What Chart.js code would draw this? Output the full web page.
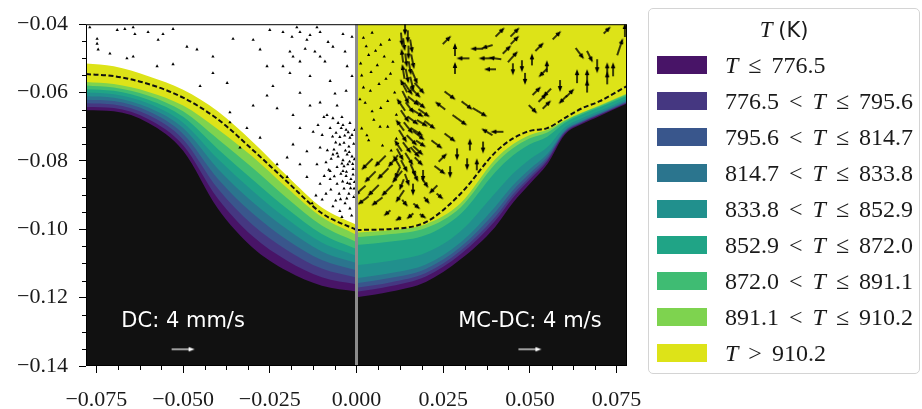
<!DOCTYPE html>
<html>
<head>
<meta charset="utf-8">
<script src="https://cdn.jsdelivr.net/npm/chart.js@4.4.1/dist/chart.umd.min.js"></script>
<style>
  body { margin: 0; background: #fff; }
  #wrap { position: relative; width: 922px; height: 409px; overflow: hidden; }
  #legend { position: absolute; left: 648px; top: 8px; width: 272px; height: 366px;
    border: 1.5px solid #d4d4d4; border-radius: 5px; box-sizing: border-box; }
  .row { position: absolute; left: 0; height: 26px; line-height: 26px; white-space: nowrap; }
  .sw { position: absolute; left: 8px; width: 50px; height: 18px; top: 4px; }
  .lt { position: absolute; left: 76px; top: 0; font-family: 'Liberation Serif', 'DejaVu Serif', 'Noto Serif', serif;
    font-size: 24px; color: #1a1a1a; word-spacing: 4px; }
  .lt i { font-style: italic; }
</style>
</head>
<body>
<div id="wrap">
  <canvas id="c" width="922" height="409"></canvas>
  <div id="legend"></div>
</div>
<script>
// 坐标轴刻度
const xTicks = [-0.075, -0.05, -0.025, 0, 0.025, 0.05, 0.075]
const xTickLabels = ['−0.075', '−0.050', '−0.025', '0.000', '0.025', '0.050', '0.075']
const yTicks = [-0.14, -0.12, -0.10, -0.08, -0.06, -0.04]
const yTickLabels = ['−0.14', '−0.12', '−0.10', '−0.08', '−0.06', '−0.04']

// 温度分级 (K) 与配色
const tempLevels = [776.5, 795.6, 814.7, 833.8, 852.9, 872.0, 891.1, 910.2]
const levelColors = ['#481467', '#453781', '#39568c', '#2b758e', '#21908d', '#20a486', '#3fbc73', '#7ed34f', '#dde318']
const solidColor = '#111111'

// 左半 DC 等值线 (mm)，自上而下
const xLeftMm = [-78, -70, -60, -50, -40, -30, -20, -10, 0]
const left0 = [-51.5, -52.3, -55.2, -59.2, -65.5, -74.4, -84.4, -93.6, -98.7]
const left1 = [-56.9, -57.5, -59.8, -63.8, -70.7, -78.7, -87.9, -96.4, -101.6]
const left2 = [-57.9, -58.5, -60.9, -65.5, -73.6, -82.0, -90.9, -98.9, -103.7]
const left3 = [-59.0, -59.5, -62.1, -67.1, -76.5, -85.4, -94.0, -101.4, -105.8]
const left4 = [-60.0, -60.5, -63.2, -68.8, -79.4, -88.7, -97.0, -103.9, -107.8]
const left5 = [-61.1, -61.5, -64.4, -70.4, -82.3, -92.0, -100.0, -106.5, -109.9]
const left6 = [-62.1, -62.5, -65.5, -72.1, -85.2, -95.3, -103.1, -109.0, -112.0]
const left7 = [-63.1, -63.5, -66.6, -73.7, -88.1, -98.7, -106.1, -111.5, -114.1]
const left8 = [-64.2, -64.5, -67.8, -75.4, -91.0, -102.0, -109.2, -114.0, -116.1]
const left9 = [-65.2, -65.5, -68.9, -77.0, -93.9, -105.3, -112.2, -116.5, -118.2]
const leftDash = [-54.6, -55.2, -57.5, -61.5, -67.8, -76.7, -86.1, -95.3, -100.2]

// 右半 MC-DC 等值线 (mm)
const xRightMm = [0, 10, 20, 30, 40, 45, 50, 55, 60, 65, 70, 78]
const right1 = [-101.0, -100.2, -98.5, -92.4, -79.5, -75.2, -72.4, -70.9, -68.1, -65.8, -63.8, -60.3]
const right2 = [-102.3, -101.4, -99.6, -93.6, -80.9, -76.4, -73.4, -71.7, -68.4, -66.0, -64.0, -60.5]
const right3 = [-104.6, -103.6, -101.7, -95.5, -83.3, -78.5, -75.1, -72.9, -68.9, -66.4, -64.4, -60.9]
const right4 = [-110.5, -109.2, -106.9, -100.6, -89.4, -83.8, -79.5, -76.0, -70.2, -67.5, -65.4, -61.8]
const right5 = [-114.3, -112.8, -110.3, -103.9, -93.4, -87.3, -82.4, -78.0, -71.1, -68.2, -66.0, -62.3]
const right6 = [-115.8, -114.2, -111.6, -105.2, -95.0, -88.7, -83.6, -78.8, -71.4, -68.5, -66.2, -62.6]
const right7 = [-117.1, -115.5, -112.8, -106.3, -96.4, -89.9, -84.6, -79.5, -71.7, -68.7, -66.5, -62.8]
const right8 = [-118.3, -116.6, -113.8, -107.3, -97.5, -90.9, -85.4, -80.1, -72.0, -68.9, -66.6, -63.0]
const right9 = [-119.9, -118.2, -115.4, -108.8, -99.3, -92.4, -86.7, -81.0, -72.4, -69.2, -66.9, -63.2]
const rightDash = [-100.2, -99.9, -97.9, -89.6, -77.5, -73.5, -71.2, -70.4, -67.5, -64.6, -62.6, -58.1]

// 左半速度点 (mm)
const leftDots = [
  [-76.9, -40.9], [-74.8, -44.3], [-74.8, -45.7], [-74.5, -47.4], [-69.0, -41.7], [-66.8, -41.4], [-64.4, -40.9],
  [-63.9, -42.9], [-60.1, -42.3], [-55.8, -42.9], [-57.2, -44.6], [-52.9, -41.4], [-48.9, -46.6], [-46.0, -47.4],
  [-71.1, -48.6], [-66.2, -50.0], [-64.4, -49.5], [-57.5, -52.3], [-52.9, -51.7], [-45.1, -58.1], [-41.4, -54.3],
  [-37.3, -57.2], [-36.5, -65.8], [-36.5, -68.7], [-41.4, -49.5], [-35.6, -44.3], [-29.8, -44.6], [-27.8, -47.4],
  [-25.0, -41.7], [-25.8, -52.3], [-24.1, -58.1], [-25.8, -60.9], [-29.8, -63.8], [-22.9, -64.6], [-19.2, -54.3],
  [-18.3, -49.5], [-17.2, -40.9], [-14.3, -44.6], [-11.4, -40.9], [-10.5, -49.5], [-6.8, -46.6], [-3.9, -42.9],
  [-2.7, -52.3], [-16.3, -60.1], [-13.4, -63.8], [-10.5, -62.9], [-18.3, -66.6], [-16.3, -70.4], [-12.5, -71.5],
  [-8.5, -66.6], [-7.6, -70.4], [-5.6, -63.8], [-3.9, -69.5], [-4.8, -75.2], [-1.9, -73.2], [-2.7, -78.1],
  [-6.8, -78.1], [-10.5, -76.1], [-14.3, -77.2], [-18.3, -75.2], [-20.0, -79.0], [-16.3, -81.0], [-11.4, -81.0],
  [-7.6, -83.0], [-3.9, -83.0], [-1.9, -86.7], [-5.6, -86.7], [-10.5, -86.7], [-14.3, -84.7], [-20.0, -84.7],
  [-22.9, -81.0], [-27.8, -73.2], [-31.6, -70.4], [-33.6, -76.1],
  [-6.8, -67.5], [-5.3, -68.9], [-4.2, -67.2], [-3.0, -70.9], [-1.9, -68.9], [-5.9, -71.8], [-4.8, -73.0],
  [-3.6, -74.7], [-2.2, -75.8], [-1.3, -72.4], [-6.5, -76.7], [-5.3, -78.7], [-3.9, -79.8], [-2.5, -81.0],
  [-1.3, -78.7], [-5.6, -81.8], [-4.5, -83.8], [-3.0, -84.4], [-1.6, -85.3], [-7.6, -85.3], [-8.8, -80.4],
  [-9.9, -72.4], [-11.1, -69.5], [-9.4, -67.2], [-1.0, -82.4], [-0.7, -88.1], [-2.2, -89.6], [-3.6, -88.1],
  [-5.0, -89.6], [-7.4, -88.4], [-8.8, -89.6], [-9.9, -91.3], [-11.7, -90.1], [-12.8, -92.4], [-3.3, -92.4],
  [-1.9, -93.9], [-4.8, -94.7], [-6.8, -93.3],
  [-0.8, -75.0], [-0.6, -79.5], [-2.0, -80.2], [-3.2, -77.0], [-4.2, -80.8], [-1.0, -84.0], [-2.6, -86.5],
  [-0.5, -71.0], [-3.4, -72.6], [-6.0, -74.6], [-7.3, -79.4], [-8.0, -82.6], [-4.0, -86.0], [-6.4, -84.5],
  [-0.8, -90.6], [-2.8, -91.0], [-1.4, -96.0], [-4.2, -96.4],
  [-21.2, -42.3], [-18.6, -43.7], [-16.3, -42.3], [-13.4, -43.2], [-10.5, -42.3], [-8.2, -45.2], [-14.8, -47.2],
  [-12.0, -48.0], [-9.1, -50.9], [-16.3, -50.9], [-19.2, -48.0], [-21.2, -52.3], [-13.4, -55.2], [-7.6, -56.6],
  [-3.3, -48.0], [-1.3, -43.7], [-1.3, -55.2], [-3.0, -59.5], [-6.2, -60.3],
  [-2.1, -77.4], [-1.1, -80.9], [-3.6, -81.6], [-2.9, -83.2], [-0.6, -86.2], [-1.7, -88.0], [-4.6, -91.2],
  [-5.6, -77.8], [-2.4, -71.6], [-4.4, -70.4], [-6.9, -72.9], [-8.4, -76.9], [-9.3, -84.4], [-6.0, -91.6]
]

// 右半小速度点 (mm)
const rightDots = [
  [2.0, -44.0], [4.5, -42.5], [7.0, -46.0], [3.5, -49.0], [9.5, -44.6], [6.0, -52.0], [1.5, -55.0], [8.5, -56.0],
  [4.0, -59.5], [10.5, -51.0], [2.5, -63.0], [7.0, -64.5], [11.0, -60.0], [5.0, -68.0], [1.5, -70.5], [9.0, -70.0],
  [3.5, -74.0], [7.5, -75.5], [11.5, -73.5], [1.0, -62.0],
  [2.8, -46.5], [5.5, -47.8], [8.0, -49.5], [1.2, -51.5], [4.2, -54.0], [9.8, -54.5], [6.5, -57.5], [2.0, -58.5],
  [9.0, -62.5], [4.5, -65.5], [11.5, -66.5], [6.8, -70.0], [3.0, -72.5], [10.0, -77.0]
]

// 右半速度矢量: x, y (mm), u, v (m/s)
const rightArrows = [
  [26.1, -44.6, 1.5, 1.5], [28.4, -47.4, 0, 2.2], [28.4, -52.8, 0, 2.0], [30.7, -50.0, -2.2, 0],
  [34.7, -47.2, -2.3, 0], [37.6, -46.6, -2.0, -0.6], [41.4, -42.3, 1.6, 1.6], [45.7, -42.3, 1.6, 1.6],
  [45.7, -44.6, 1.5, 1.5], [43.4, -47.4, 1.5, 1.5], [45.1, -49.5, 1.8, 2.0], [37.1, -50.0, -2.2, 0],
  [39.9, -50.0, -2.2, 0.3], [47.7, -52.3, 0, -2.0], [50.6, -50.3, 0, 2.0], [52.8, -46.6, 1.5, 1.5],
  [57.8, -43.2, 1.5, 1.5], [54.9, -52.3, 0, 2.0], [53.7, -54.3, -1.5, -1.5], [48.6, -56.0, 0, -2.0],
  [45.1, -53.2, 0, -2.0], [38.5, -53.2, -2.0, 0], [52.0, -59.5, 1.5, 1.5], [54.9, -60.1, -1.5, -1.5],
  [58.7, -58.1, 0, -2.0], [61.6, -60.1, 1.5, 1.5], [64.4, -48.6, 1.5, -2.0], [67.3, -49.5, 1.0, -2.0],
  [69.4, -52.3, 0, -2.5], [66.5, -55.2, 0, 2.5], [63.6, -55.2, 0, 2.5], [66.5, -58.1, 0, 2.2],
  [72.3, -53.2, 0, 2.5], [74.0, -53.2, 0, 2.5], [72.3, -55.7, 0, 2.2], [76.0, -46.6, 1.0, 3.0],
  [77.4, -41.7, 0, 2.5], [72.3, -41.7, 1.2, 1.2], [53.7, -61.5, 1.5, 1.5], [59.5, -62.1, -1.5, -1.5],
  [54.9, -63.5, 1.5, 1.5], [50.9, -64.9, 1.5, -1.5],
  [27.0, -60.9, 2.0, -1.5], [31.9, -63.8, 2.0, -1.5], [35.6, -65.8, 2.5, -1.5], [29.8, -68.1, 2.5, -1.8],
  [37.6, -71.5, -2.0, 1.2], [40.5, -71.5, -2.2, 0], [27.0, -73.2, 2.0, -1.5], [32.7, -75.2, 0, 2.0],
  [36.5, -76.1, 0, -2.0], [23.2, -75.2, 2.0, -1.5], [24.1, -63.8, -1.8, 1.4], [21.2, -69.5, 2.0, -1.5],
  [24.9, -79.0, 1.5, 1.5], [29.0, -78.1, 0, -2.0], [31.9, -81.0, 0, -2.0], [24.1, -82.7, 2.0, -1.5],
  [19.2, -84.4, 0, -2.0], [22.1, -88.4, -1.5, -1.5], [16.3, -88.4, 0, -2.0], [27.0, -83.3, 0, -2.0],
  [34.7, -81.0, 0, 2.0],
  [3.0, -81.0, -2.0, -2.0], [6.8, -80.1, -2.0, -2.0], [10.5, -80.1, -1.8, -2.2], [3.9, -84.7, -2.0, -2.0],
  [7.6, -83.8, -2.0, -2.0], [11.7, -84.7, -1.8, -2.2], [1.0, -88.7, -2.0, -1.8], [4.8, -88.7, -2.0, -2.0],
  [8.8, -88.7, -2.0, -2.0], [12.5, -90.4, -1.5, -2.2], [1.9, -91.6, -2.0, -1.5], [5.9, -91.9, -2.0, -1.5],
  [8.8, -95.3, -1.2, -1.0], [17.4, -93.3, 1.2, -1.0], [15.4, -96.2, -1.2, -1.0], [20.3, -91.6, 1.0, -1.2],
  [19.2, -96.2, 1.2, -0.8], [24.1, -90.4, 1.2, -1.0], [14.0, -92.4, 1.0, -1.2], [12.0, -97.0, -1.0, -0.6],
  [14.0, -41.4, 0, -2.2], [14.8, -43.7, 0, -2.2], [13.7, -46.0, 0.3, -2.2], [15.0, -48.3, 0, -2.4],
  [14.3, -50.6, 0.3, -2.4], [15.4, -52.9, 0.4, -2.4], [14.6, -55.2, 0.5, -2.5], [16.0, -57.5, 0.6, -2.5],
  [15.0, -59.0, 1.5, -2.2], [17.0, -60.0, 1.8, -1.8], [14.2, -61.5, 1.2, -2.4], [16.5, -62.5, 2.0, -1.6],
  [18.5, -63.5, 1.8, -1.5], [15.4, -64.5, 1.5, -2.0], [17.6, -66.0, 2.2, -1.4], [14.0, -67.0, 1.5, -2.2],
  [16.3, -68.2, 2.0, -1.5], [19.0, -69.0, 2.0, -1.2], [15.0, -70.4, 1.6, -2.0], [17.4, -71.5, 2.2, -1.4],
  [13.4, -72.8, 1.4, -2.2], [16.0, -74.0, 1.8, -1.8], [18.6, -75.0, 1.8, -1.2], [14.6, -76.2, 1.5, -2.0],
  [16.9, -77.5, 1.6, -1.8], [12.6, -78.2, 1.2, -2.2], [15.2, -79.5, 1.4, -2.2], [18.0, -80.2, 1.5, -1.5],
  [13.8, -81.6, 1.2, -2.2], [16.4, -82.8, 1.0, -2.2], [11.8, -83.5, -1.0, -2.2], [14.6, -85.6, 0.8, -2.2],
  [13.0, -44.5, 0.2, -2.4], [15.8, -46.5, 0.4, -2.4], [13.2, -49.2, -0.3, 2.4], [16.2, -51.0, 0.5, -2.5],
  [13.5, -53.8, -0.4, 2.5], [16.8, -55.6, 1.0, -2.4], [13.6, -58.0, -1.2, 2.3], [18.2, -58.8, 1.8, -2.0],
  [12.8, -63.5, -1.5, 2.2], [19.5, -66.0, 2.0, -1.4], [12.5, -69.5, -1.5, 2.0], [18.0, -72.6, 2.0, -1.6],
  [12.0, -75.5, -1.3, 2.0], [17.8, -77.0, 1.8, -1.6], [11.5, -80.0, -1.2, 2.0], [17.0, -84.5, 1.0, -2.0],
  [13.0, -87.0, -0.8, -2.0], [19.8, -86.5, 1.2, -1.8]
]

// 比例尺箭头与文字
const keyArrows = [[-50, -135.1, 4, 0], [50, -135.1, 4, 0]]
const keyLabels = ['DC: 4 mm/s', 'MC-DC: 4 m/s']
const keyLabelX = [-50, 50]
const keyLabelY = -128.6

const pxPerSpeed = 23 / 4 // 箭头长度 px / (m/s)

// 箭头图元缓存
const arrowCache = {}
function arrowImage(len, color, shaft, head) {
  const key = color + Math.round(len) + shaft
  if (arrowCache[key]) return arrowCache[key]
  const L = Math.max(6, Math.round(len))
  const cv = document.createElement('canvas')
  cv.width = L + 2
  cv.height = 8
  const g = cv.getContext('2d')
  g.strokeStyle = color
  g.fillStyle = color
  g.lineWidth = shaft
  g.beginPath()
  g.moveTo(1, 4)
  g.lineTo(L - 3, 4)
  g.stroke()
  g.beginPath()
  g.moveTo(L - head, 4 - head * 0.45)
  g.lineTo(L + 1, 4)
  g.lineTo(L - head, 4 + head * 0.45)
  g.closePath()
  g.fill()
  arrowCache[key] = cv
  return cv
}

function curve(xs, ys) {
  return xs.map((x, i) => ({ x: x / 1000, y: ys[i] / 1000 }))
}

const datasets = []
let drawOrder = 100
function band(xs, ys, color) {
  datasets.push({
    type: 'line', data: curve(xs, ys), fill: 'start', backgroundColor: color,
    borderWidth: 0, pointRadius: 0, cubicInterpolationMode: 'monotone', order: drawOrder--
  })
}

// 左半色带
const leftLines = [left0, left1, left2, left3, left4, left5, left6, left7, left8]
leftLines.forEach((ys, i) => band(xLeftMm, ys, levelColors[8 - i]))
band(xLeftMm, left9, solidColor)

// 右半色带（顶部全为高温区）
band([0, 78], [-40, -40], levelColors[8])
const rightLines = [right1, right2, right3, right4, right5, right6, right7, right8]
rightLines.forEach((ys, i) => band(xRightMm, ys, levelColors[7 - i]))
band(xRightMm, right9, solidColor)

// 虚线
;[[xLeftMm, leftDash], [xRightMm, rightDash]].forEach(([xs, ys]) => {
  datasets.push({
    type: 'line', data: curve(xs, ys), fill: false, borderColor: '#111', borderWidth: 2,
    borderDash: [5, 2.5], pointRadius: 0, cubicInterpolationMode: 'monotone', order: 10
  })
})

// 速度点
datasets.push({
  type: 'scatter', data: leftDots.concat(rightDots).map(p => ({ x: p[0] / 1000, y: p[1] / 1000 })),
  pointStyle: 'triangle', pointRadius: 1.9, backgroundColor: '#000', borderWidth: 0, order: 6
})

function arrowSet(list, color, shaft, head, order) {
  datasets.push({
    type: 'scatter',
    data: list.map(a => ({ x: a[0] / 1000, y: a[1] / 1000, u: a[2], v: a[3] })),
    pointRadius: 3,
    pointStyle: ctx => arrowImage(Math.hypot(ctx.raw.u, ctx.raw.v) * pxPerSpeed, color, shaft, head),
    pointRotation: ctx => -Math.atan2(ctx.raw.v, ctx.raw.u) * 180 / Math.PI,
    order: order
  })
}
arrowSet(rightArrows, '#000', 1.5, 5, 5)
arrowSet(keyArrows, '#fff', 1.2, 5, 4)

// x = 0 分界线
datasets.push({
  type: 'line', data: [{ x: 0, y: -0.04 }, { x: 0, y: -0.14 }], borderColor: '#8c8c8c',
  borderWidth: 3, pointRadius: 0, fill: false, order: 1
})

const framePlugin = {
  id: 'frame',
  afterDatasetsDraw(chart) {
    const ctx = chart.ctx
    const xs = chart.scales.x, ys = chart.scales.y
    ctx.save()
    ctx.fillStyle = '#fff'
    ctx.font = '21px "DejaVu Sans"'
    ctx.textAlign = 'center'
    ctx.textBaseline = 'alphabetic'
    keyLabels.forEach((t, i) => {
      ctx.fillText(t, xs.getPixelForValue(keyLabelX[i] / 1000), ys.getPixelForValue(keyLabelY / 1000))
    })
    ctx.restore()
  },
  afterDraw(chart) {
    const ctx = chart.ctx
    const a = chart.chartArea
    const xs = chart.scales.x, ys = chart.scales.y
    ctx.save()
    ctx.strokeStyle = '#000'
    ctx.lineWidth = 1
    ctx.strokeRect(a.left + 0.5, a.top + 0.5, a.right - a.left - 1, a.bottom - a.top - 1)
    ctx.beginPath()
    for (let k = -13; k <= 13; k++) {
      const v = k * 0.00625
      if (k % 4 === 0 || v < xs.min || v > xs.max) continue
      const px = Math.round(xs.getPixelForValue(v)) + 0.5
      ctx.moveTo(px, a.bottom)
      ctx.lineTo(px, a.bottom + 4)
    }
    for (let k = 0; k <= 20; k++) {
      if (k % 4 === 0) continue
      const py = Math.round(ys.getPixelForValue(-0.14 + k * 0.005)) + 0.5
      ctx.moveTo(a.left, py)
      ctx.lineTo(a.left - 4, py)
    }
    ctx.stroke()
    ctx.restore()
  }
}

const tickFont = { family: "'Liberation Serif', 'DejaVu Serif', 'Noto Serif', serif", size: 22 }
new Chart(document.getElementById('c'), {
  type: 'line',
  data: { datasets },
  plugins: [framePlugin],
  options: {
    responsive: false,
    devicePixelRatio: 1,
    animation: false,
    events: [],
    layout: { padding: { left: 0, top: 17, right: 295, bottom: 0 } },
    plugins: { legend: { display: false }, tooltip: { enabled: false } },
    scales: {
      x: {
        type: 'linear', min: -0.078, max: 0.078,
        afterBuildTicks: s => { s.ticks = xTicks.map(v => ({ value: v })) },
        afterFit: s => { s.height = 43 },
        ticks: { callback: (v, i) => xTickLabels[i], font: tickFont, color: '#1a1a1a', padding: 14, maxRotation: 0 },
        grid: { drawOnChartArea: false, tickLength: 7, tickColor: '#000' },
        border: { display: false }
      },
      y: {
        type: 'linear', min: -0.14, max: -0.04,
        afterBuildTicks: s => { s.ticks = yTicks.map(v => ({ value: v })) },
        afterFit: s => { s.width = 86 },
        ticks: { callback: (v, i) => yTickLabels[i], font: tickFont, color: '#1a1a1a', padding: 11 },
        grid: { drawOnChartArea: false, tickLength: 7, tickColor: '#000' },
        border: { display: false }
      }
    }
  }
})

// 图例
const legend = document.getElementById('legend')
const title = document.createElement('div')
title.style.cssText = 'position:absolute;left:0;width:100%;top:8px;text-align:center;font-size:23px;color:#1a1a1a;white-space:nowrap'
title.innerHTML = '<i style="font-family:\'Liberation Serif\',\'DejaVu Serif\',serif">T</i> <span style="font-family:\'DejaVu Sans\';font-size:21px">(K)</span>'
legend.appendChild(title)
levelColors.forEach((c, i) => {
  let label
  if (i === 0) label = '<i>T</i> ≤ ' + tempLevels[0].toFixed(1)
  else if (i === levelColors.length - 1) label = '<i>T</i> &gt; ' + tempLevels[i - 1].toFixed(1)
  else label = tempLevels[i - 1].toFixed(1) + ' &lt; <i>T</i> ≤ ' + tempLevels[i].toFixed(1)
  const row = document.createElement('div')
  row.className = 'row'
  row.style.top = (43 + i * 36) + 'px'
  row.innerHTML = '<div class="sw" style="background:' + c + '"></div><div class="lt">' + label + '</div>'
  legend.appendChild(row)
})
</script>
</body>
</html>
